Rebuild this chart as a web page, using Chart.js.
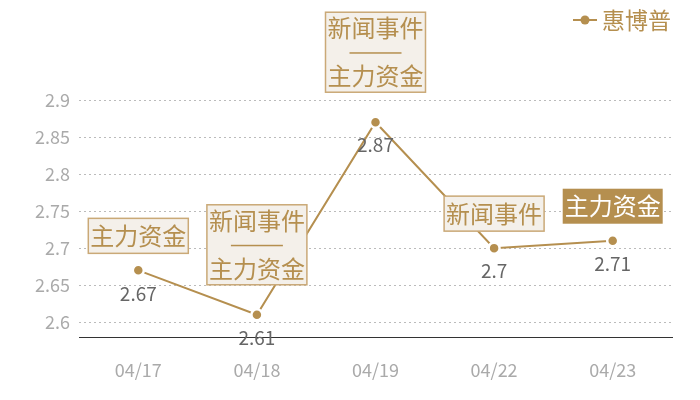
<!DOCTYPE html>
<html><head><meta charset="utf-8">
<script src="https://cdn.jsdelivr.net/npm/chart.js@4/dist/chart.umd.min.js"></script>
<style>html,body{margin:0;padding:0;background:#fff}#wrap{width:700px;height:400px}</style>
</head><body><div id="wrap"><canvas id="c" width="700" height="400"></canvas></div>
<script>
const categories = ['04/17','04/18','04/19','04/22','04/23'];
const seriesName = '惠博普';
const values = [2.67, 2.61, 2.87, 2.70, 2.71];
const yTicks = [2.6, 2.65, 2.7, 2.75, 2.8, 2.85, 2.9];
const annotations = [
  ['主力资金'],
  ['新闻事件','——','主力资金'],
  ['新闻事件','——','主力资金'],
  ['新闻事件'],
  ['主力资金']
];
const highlighted = [false,false,false,false,true];

const GOLD = '#b58f4f';
const FONT = '"Noto Sans CJK SC","Noto Sans",sans-serif';

const plugin = {
  id:'deco',
  afterDatasetsDraw(chart){
    const ctx = chart.ctx;
    const meta = chart.getDatasetMeta(0);
    ctx.save();
    // data labels
    ctx.font = '19px '+FONT;
    ctx.fillStyle = '#666';
    ctx.textAlign='center'; ctx.textBaseline='middle';
    meta.data.forEach((p,i)=>{
      ctx.fillText(String(values[i]), p.x, p.y+23);
    });
    // annotation boxes
    meta.data.forEach((p,i)=>{
      const lines = annotations[i];
      const multi = lines.length>1;
      const w = 100, h = multi?80:35;
      const bottom = p.y - (multi?30:17);
      const top = bottom - h;
      const left = p.x - w/2;
      if(highlighted[i]){
        ctx.fillStyle = GOLD;
        ctx.fillRect(left, top, w, h);
      } else {
        ctx.fillStyle = '#f4f0ea';
        ctx.fillRect(left, top, w, h);
        ctx.strokeStyle = '#caa977';
        ctx.lineWidth = 1.5;
        ctx.strokeRect(left, top, w, h);
      }
      ctx.fillStyle = highlighted[i] ? '#fff' : GOLD;
      ctx.font = '24px '+FONT;
      if(multi){
        ctx.fillText(lines[0], p.x, top+16);
        ctx.fillRect(p.x-26, top+40, 52, 1.5);
        ctx.fillText(lines[2], p.x, top+64);
      } else {
        ctx.fillText(lines[0], p.x, top+h/2);
      }
    });
    // legend
    ctx.strokeStyle = GOLD; ctx.lineWidth = 2;
    ctx.beginPath(); ctx.moveTo(573,20); ctx.lineTo(597,20); ctx.stroke();
    ctx.fillStyle = GOLD;
    ctx.beginPath(); ctx.arc(585,20,4.5,0,Math.PI*2); ctx.fill();
    ctx.font = '23px '+FONT; ctx.textAlign='left';
    ctx.fillText(seriesName, 602, 20);
    ctx.restore();
  }
};

new Chart(document.getElementById('c'), {
  type:'line',
  data:{labels:categories, datasets:[{
    label:seriesName, data:values,
    borderColor:GOLD, borderWidth:2, tension:0,
    pointRadius:5.5, pointBackgroundColor:GOLD, pointBorderColor:'#fff', pointBorderWidth:2.5,
    pointHoverRadius:5.5
  }]},
  options:{
    responsive:false, animation:false, devicePixelRatio:1,
    layout:{padding:{top:100,right:28,left:0,bottom:0}},
    plugins:{legend:{display:false}, tooltip:{enabled:false}},
    scales:{
      x:{
        offset:true,
        grid:{display:false, drawTicks:false},
        border:{display:true, color:'#333', width:1},
        ticks:{color:'#aaa', font:{size:18, family:FONT}, padding:22},
        afterFit(s){ s.height = 63; }
      },
      y:{
        min:2.58, max:2.9,
        afterBuildTicks(s){ s.ticks = yTicks.map(v=>({value:v})); },
        grid:{color:'#bbb', drawTicks:false, lineWidth:1},
        border:{display:false, dash:[2,3]},
        ticks:{color:'#aaa', font:{size:18, family:FONT}, padding:9, callback:v=>String(v)},
        afterFit(s){ s.width = 79; }
      }
    }
  },
  plugins:[plugin]
});
</script></body></html>
